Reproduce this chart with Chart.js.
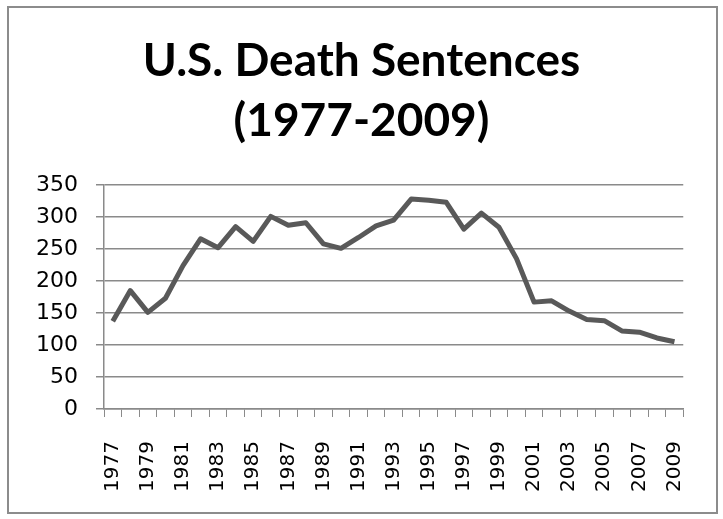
<!DOCTYPE html>
<html>
<head>
<meta charset="utf-8">
<script src="https://cdn.jsdelivr.net/npm/chart.js@4/dist/chart.umd.min.js"></script>
<style>
  html, body { margin: 0; padding: 0; background: #fff; }
  #wrap { position: relative; width: 723px; height: 519px; }
  #frame {
    position: absolute; left: 7px; top: 6px; width: 707px; height: 504px;
    border: 2px solid #8c8c8c;
  }
  canvas { position: absolute; left: 0; top: 0; }
</style>
</head>
<body>
<div id="wrap">
  <div id="frame"></div>
  <canvas id="chart" width="723" height="519"></canvas>
</div>
<script>
// Death sentences per year
const years = ['1977', '1978', '1979', '1980', '1981', '1982', '1983', '1984', '1985', '1986', '1987',
               '1988', '1989', '1990', '1991', '1992', '1993', '1994', '1995', '1996', '1997', '1998',
               '1999', '2000', '2001', '2002', '2003', '2004', '2005', '2006', '2007', '2008', '2009'];
const sentences = [137, 185, 151, 173, 224, 266, 252, 285, 262, 301, 287,
                   291, 258, 251, 268, 286, 295, 328, 326, 323, 281, 306,
                   284, 235, 167, 169, 153, 140, 138, 122, 120, 111, 105];
const titleLines = ['U.S. Death Sentences', '(1977-2009)'];

const axisGray = '#8a8a8a';

new Chart(document.getElementById('chart'), {
    type: 'line',
    data: {
        labels: years,
        datasets: [{
            data: sentences,
            borderColor: '#595959',
            borderWidth: 5,
            borderJoinStyle: 'round',
            pointRadius: 0,
            tension: 0
        }]
    },
    options: {
        responsive: false,
        animation: false,
        // symmetric side padding keeps the title centred on the frame
        layout: { padding: { left: 34, right: 34, top: 0, bottom: 0 } },
        plugins: {
            legend: { display: false },
            tooltip: { enabled: false },
            title: {
                display: true,
                text: titleLines,
                color: '#000',
                font: { family: 'Lato', weight: 'bold', size: 46, lineHeight: '60px' },
                padding: { top: 31, bottom: 34 }
            }
        },
        scales: {
            x: {
                offset: true,
                grid: { offset: true, drawOnChartArea: false, drawTicks: true, tickLength: 8, color: axisGray },
                border: { color: axisGray, width: 1.5 },
                ticks: {
                    autoSkip: false,
                    minRotation: 90,
                    maxRotation: 90,
                    padding: 24,
                    color: '#000',
                    font: { family: 'DejaVu Sans', size: 20 },
                    callback: (v, i) => (i % 2 === 0 ? years[i] : '')
                },
                afterFit: (s) => { s.height = 110; }
            },
            y: {
                min: 0,
                max: 350,
                grid: { color: axisGray, lineWidth: 1.5, tickLength: 8 },
                border: { color: axisGray, width: 1.5 },
                ticks: {
                    stepSize: 50,
                    padding: 18,
                    color: '#000',
                    font: { family: 'DejaVu Sans', size: 22 }
                },
                afterFit: (s) => { s.width = 70; }
            }
        }
    }
});
</script>
</body>
</html>
